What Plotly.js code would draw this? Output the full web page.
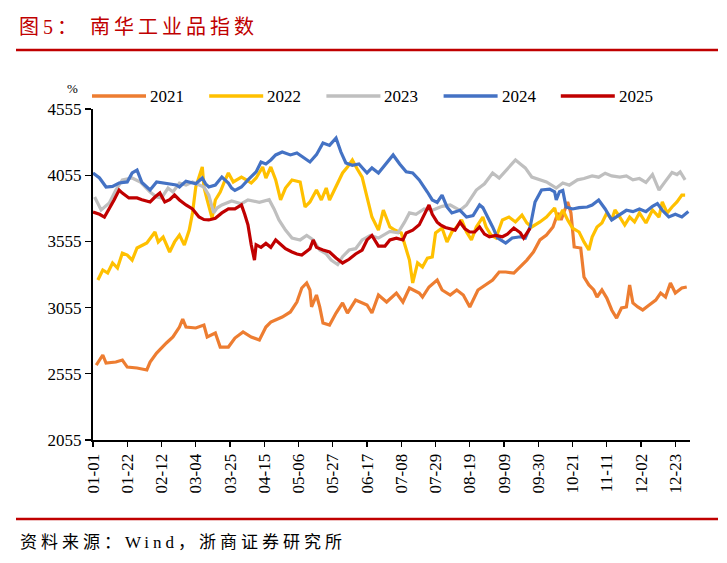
<!DOCTYPE html>
<html>
<head>
<meta charset="utf-8">
<script src="https://cdn.plot.ly/plotly-3.0.1.min.js"></script>
<style>
html,body{margin:0;padding:0;background:#fff;}
#chart{width:727px;height:563px;}
g.annotation[data-index="0"] text, g.annotation[data-index="1"] text { letter-spacing: 4px; }
</style>
</head>
<body>
<div id="chart"></div>
<script>
// ---- data ----
const seriesNames = ['2021', '2022', '2023', '2024', '2025'];
const seriesColors = ['#ED7D31', '#FFC000', '#BFBFBF', '#4472C4', '#C00000'];

const dates2021 = ['01-03','01-07','01-09','01-15','01-19','01-22','01-28','02-03','02-05','02-09','02-15','02-19','02-23','02-25','02-27','03-04','03-09','03-11','03-16','03-19','03-24','03-28','04-02','04-07','04-12','04-16','04-19','04-26','05-01','05-05','05-08','05-11','05-13','05-14','05-17','05-19','05-21','05-25','05-29','06-02','06-05','06-10','06-17','06-20','06-24','06-29','07-05','07-09','07-13','07-19','07-21','07-25','07-30','08-02','08-07','08-11','08-15','08-19','08-24','08-29','09-02','09-06','09-10','09-15','09-19','09-23','09-27','10-01','10-05','10-09','10-12','10-14','10-18','10-20','10-22','10-26','10-28','10-31','11-03','11-05','11-08','11-11','11-14','11-17','11-20','11-23','11-25','11-27','11-30','12-03','12-07','12-11','12-14','12-17','12-20','12-23','12-27','12-30'];
const values2021 = [2621,2697,2636,2644,2659,2606,2599,2584,2644,2712,2788,2833,2908,2969,2908,2901,2923,2833,2863,2757,2757,2825,2871,2833,2810,2908,2946,2984,3022,3097,3203,3241,3188,3060,3150,3060,2939,2923,3014,3090,3014,3112,3075,3014,3150,3097,3165,3097,3203,3165,3135,3211,3263,3188,3150,3188,3150,3060,3188,3226,3263,3324,3324,3316,3361,3414,3475,3566,3603,3664,3770,3717,3853,3770,3513,3505,3286,3226,3188,3135,3188,3127,3037,2976,3052,3060,3226,3090,3060,3037,3075,3112,3165,3135,3241,3165,3203,3211];

const dates2022 = ['01-04','01-07','01-10','01-13','01-16','01-19','01-22','01-25','01-28','02-03','02-08','02-10','02-13','02-17','02-20','02-23','02-26','02-29','03-02','03-04','03-08','03-09','03-11','03-14','03-16','03-19','03-22','03-24','03-27','04-01','04-04','04-07','04-10','04-14','04-16','04-19','04-22','04-25','04-28','05-02','05-07','05-10','05-13','05-17','05-20','05-23','05-25','05-29','06-02','06-05','06-08','06-11','06-14','06-17','06-20','06-24','06-27','07-01','07-04','07-08','07-11','07-13','07-15','07-18','07-21','07-24','07-27','07-29','08-02','08-05','08-08','08-11','08-14','08-17','08-20','08-23','08-27','08-29','09-01','09-04','09-08','09-12','09-16','09-20','09-23','09-26','10-01','10-05','10-10','10-12','10-15','10-18','10-21','10-25','10-28','10-31','11-02','11-05','11-08','11-11','11-14','11-16','11-19','11-22','11-25','11-28','12-01','12-05','12-09','12-13','12-15','12-18','12-21','12-24','12-27','12-29'];
const values2022 = [3263,3339,3316,3392,3354,3467,3452,3414,3505,3543,3626,3551,3588,3475,3551,3603,3528,3641,3770,3966,4117,3966,3868,3732,3868,3928,4019,4072,4004,4041,4019,3996,4034,4117,4034,4117,4019,3868,3958,4019,4004,3815,3853,3943,3868,3958,3868,3966,4072,4117,4170,4102,4041,3890,3739,3641,3792,3664,3641,3619,3490,3414,3241,3392,3361,3429,3437,3619,3656,3551,3626,3664,3717,3626,3566,3664,3739,3664,3603,3581,3717,3739,3702,3754,3694,3664,3702,3739,3807,3717,3792,3717,3656,3626,3551,3490,3588,3664,3694,3770,3717,3792,3739,3679,3739,3702,3770,3694,3792,3739,3853,3770,3815,3853,3905,3905];

const dates2023 = ['01-02','01-06','01-11','01-15','01-19','01-25','01-30','02-02','02-05','02-09','02-12','02-16','02-19','02-23','02-27','03-02','03-06','03-09','03-12','03-15','03-17','03-20','03-26','04-01','04-05','04-12','04-18','04-21','04-24','04-28','05-02','05-07','05-11','05-15','05-19','05-23','05-26','05-30','06-02','06-06','06-10','06-14','06-19','06-24','07-01','07-06','07-10','07-13','07-17','07-22','07-27','08-02','08-07','08-13','08-17','08-23','08-28','09-02','09-06','09-11','09-16','09-19','09-22','09-26','10-01','10-05','10-11','10-15','10-19','10-24','10-28','11-02','11-06','11-10','11-14','11-19','11-23','11-27','12-01','12-05','12-09','12-13','12-17','12-21','12-24','12-26','12-29'];
const values2023 = [3890,3792,3845,3943,4019,4034,4004,3966,3928,3890,3883,3958,3928,3996,3981,4004,3981,3966,3905,3770,3807,3830,3860,3840,3868,3850,3870,3800,3717,3641,3580,3566,3600,3566,3490,3460,3414,3380,3440,3490,3500,3566,3600,3580,3630,3620,3700,3770,3760,3800,3790,3820,3830,3790,3830,3943,3990,4072,4034,4100,4170,4140,4110,4041,4019,4004,3958,3996,3980,4020,4030,4050,4040,4070,4050,4040,4050,4020,4030,4000,4060,3943,4010,4075,4060,4080,4020];

const dates2024 = ['01-01','01-05','01-09','01-13','01-17','01-22','01-25','01-28','01-31','02-05','02-09','02-15','02-21','02-23','02-27','03-04','03-08','03-10','03-12','03-16','03-20','03-24','03-26','03-28','04-01','04-05','04-10','04-13','04-16','04-19','04-22','04-26','05-01','05-05','05-08','05-13','05-17','05-21','05-25','05-29','06-01','06-04','06-08','06-12','06-17','06-20','06-24','06-28','07-03','07-07','07-11','07-15','07-19','07-24','07-27','07-30','08-02','08-05','08-08','08-13','08-17','08-21','08-25','08-27','08-30','09-02','09-05','09-10','09-14','09-19','09-22','09-25','09-28','10-02','10-07','10-10','10-11','10-13','10-15','10-17','10-21','10-25','10-30','11-02','11-06','11-10','11-14','11-19','11-23','11-27','12-01','12-05','12-09','12-12','12-15','12-19','12-23','12-27','12-31'];
const values2024 = [4072,4034,3966,3970,3996,4004,4072,4094,4000,3943,4004,3990,3981,3966,4010,3990,4034,3990,3966,3981,4041,3996,3958,3940,3966,4019,4080,4155,4140,4170,4208,4230,4208,4223,4200,4155,4210,4298,4280,4336,4230,4147,4130,4140,4072,4110,4072,4130,4208,4140,4080,4072,4019,3928,3868,3850,3905,3815,3770,3790,3739,3750,3830,3810,3740,3664,3581,3543,3581,3590,3580,3664,3853,3943,3950,3930,3868,3930,3940,3815,3800,3810,3815,3830,3868,3800,3717,3760,3790,3780,3800,3780,3820,3840,3790,3740,3760,3740,3780];

const dates2025 = ['01-01','01-05','01-08','01-11','01-14','01-17','01-19','01-23','01-28','01-31','02-05','02-08','02-11','02-14','02-17','02-20','02-23','02-27','03-02','03-06','03-09','03-12','03-16','03-20','03-24','03-28','04-01','04-03','04-05','04-07','04-09','04-10','04-13','04-16','04-19','04-22','04-25','04-28','05-02','05-05','05-08','05-13','05-15','05-17','05-21','05-25','05-29','06-02','06-06','06-10','06-14','06-17','06-20','06-24','06-28','07-01','07-05','07-09','07-11','07-15','07-19','07-22','07-25','07-27','07-30','08-01','08-04','08-07','08-10','08-13','08-16','08-19','08-22','08-25','08-28','08-31','09-04','09-08','09-11','09-15','09-19','09-21','09-23','09-25'];
const values2025 = [3777,3760,3739,3800,3870,3943,3920,3883,3883,3870,3853,3890,3920,3853,3870,3905,3868,3830,3800,3739,3720,3717,3730,3770,3800,3800,3830,3760,3680,3530,3414,3530,3510,3540,3510,3566,3530,3500,3475,3460,3452,3500,3566,3510,3490,3475,3430,3392,3420,3460,3490,3566,3600,3520,3520,3566,3580,3566,3619,3640,3680,3750,3830,3760,3700,3680,3660,3650,3640,3700,3650,3626,3626,3664,3610,3590,3600,3590,3610,3656,3620,3580,3620,3656];

const yTicks = [2055, 2555, 3055, 3555, 4055, 4555];
const titleText = '图5： 南华工业品指数';
const sourceText = '资料来源：Wind，浙商证券研究所';
const unitText = '%';

// ---- build ----
const allDates = [dates2021, dates2022, dates2023, dates2024, dates2025];
const allValues = [values2021, values2022, values2023, values2024, values2025];
const toDate = d => '2024-' + d;

const traces = seriesNames.map((n, i) => ({
  type: 'scatter', mode: 'lines', name: n,
  x: allDates[i].map(toDate), y: allValues[i],
  line: {color: seriesColors[i], width: 3.2},
  showlegend: false, hoverinfo: 'skip'
}));

const W = 727, H = 563, ML = 93, MR = 37, MT = 109, MB = 123;
const PW = W - ML - MR, PH = H - MT - MB;
const px = x => (x - ML) / PW;
const py = y => (H - MB - y) / PH;

const serif = '"Liberation Serif", "DejaVu Serif", serif';
const cjk = '"Liberation Serif", "Noto Sans CJK SC", sans-serif';
const darkRed = '#C00000';

const annotations = [
  {text: sourceText, xref: 'paper', yref: 'paper', x: px(18), y: py(542), xanchor: 'left', yanchor: 'middle', align: 'left', showarrow: false, font: {family: cjk, size: 17, color: '#000'}},
  {text: titleText, xref: 'paper', yref: 'paper', x: px(17), y: py(27), xanchor: 'left', yanchor: 'middle', align: 'left', showarrow: false, font: {family: cjk, size: 20, color: darkRed}},
  {text: unitText, xref: 'paper', yref: 'paper', x: px(72), y: py(88), xanchor: 'center', yanchor: 'middle', showarrow: false, font: {family: serif, size: 13, color: '#000'}}
];
const shapes = [
  {type: 'line', xref: 'paper', yref: 'paper', x0: px(16), x1: px(718), y0: py(50), y1: py(50), line: {color: darkRed, width: 2.5}},
  {type: 'line', xref: 'paper', yref: 'paper', x0: px(16), x1: px(718), y0: py(519), y1: py(519), line: {color: darkRed, width: 2.5}}
];
// legend (drawn manually to match sample length)
const legX0 = 92, legStep = 117.2, legLine = 54, legY = 96;
seriesNames.forEach((n, i) => {
  const x0 = legX0 + i * legStep;
  shapes.push({type: 'line', xref: 'paper', yref: 'paper', x0: px(x0), x1: px(x0 + legLine), y0: py(legY), y1: py(legY), line: {color: seriesColors[i], width: 3.5}});
  annotations.push({text: n, xref: 'paper', yref: 'paper', x: px(x0 + legLine + 2), y: py(legY), xanchor: 'left', yanchor: 'middle', showarrow: false, font: {family: serif, size: 17, color: '#000'}});
});

const layout = {
  width: W, height: H,
  margin: {l: ML, r: MR, t: MT, b: MB, pad: 0},
  paper_bgcolor: '#fff', plot_bgcolor: '#fff',
  showlegend: false,
  font: {family: serif},
  xaxis: {
    type: 'date', range: ['2024-01-01', '2025-01-01'],
    tick0: '2024-01-01', dtick: 21 * 86400000, tickformat: '%m-%d',
    tickangle: -90, ticks: 'outside', ticklen: 5, tickwidth: 1.3, tickcolor: '#000',
    showline: true, linecolor: '#000', linewidth: 2, showgrid: false, zeroline: false,
    tickfont: {family: serif, size: 17, color: '#000'}
  },
  yaxis: {
    range: [2055, 4555], tickvals: yTicks, ticktext: yTicks.map(String),
    ticks: 'outside', ticklen: 6, tickwidth: 1.3, tickcolor: '#000',
    showline: true, linecolor: '#000', linewidth: 2, showgrid: false, zeroline: false,
    tickfont: {family: serif, size: 17, color: '#000'}
  },
  annotations: annotations,
  shapes: shapes
};

Plotly.newPlot('chart', traces, layout, {displayModeBar: false, staticPlot: true});
</script>
</body>
</html>
